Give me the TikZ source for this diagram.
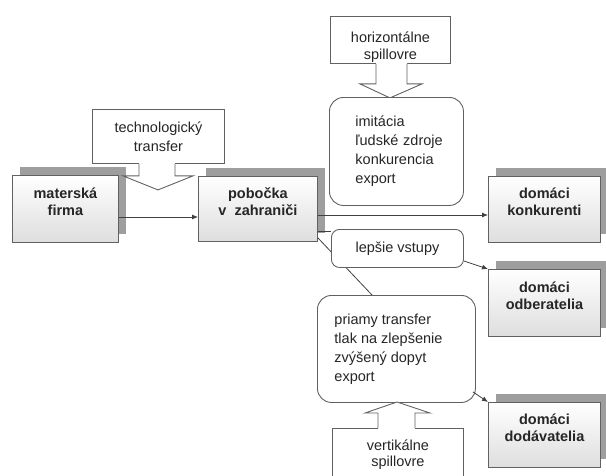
\documentclass[tikz,border=0pt]{standalone}
\usepackage{fontspec}
\setmainfont{Liberation Sans}
\usetikzlibrary{arrows.meta,calc,shadows}
\newcommand\mydrop[1]{\rule[-#1]{0pt}{0pt}}
\newcommand\myrise[1]{\rule{0pt}{#1}}
\begin{document}
\begin{tikzpicture}[x=1pt,y=-1pt,
  edgecol/.style={draw=black!62},
  mainbox/.style={edgecol, line width=0.9pt, top color=white, bottom color=black!13,
     anchor=north west, inner sep=0pt, align=center, text=black!85,
     font=\bfseries\fontsize{14.5}{17}\selectfont,
     general shadow={fill=black!38, shadow xshift=8pt, shadow yshift=8pt}},
  callbox/.style={edgecol, line width=0.9pt, fill=white, anchor=north west, inner sep=0pt,
     align=center, text=black!85, font=\fontsize{14.5}{19}\selectfont},
  roundbox/.style={edgecol, line width=0.9pt, fill=white, anchor=north west, inner sep=0pt,
     align=left, text=black!85, font=\fontsize{14.5}{19}\selectfont},
  conn/.style={draw=black!75, line width=0.8pt},
  arr/.style={conn, -{Latex[length=6pt,width=5pt]}},
  calloutline/.style={edgecol, line width=0.9pt}
]
\useasboundingbox (0,0) rectangle (606,475);

% --- shaded boxes with shadows
\node[mainbox, minimum width=106pt, minimum height=67pt] (mat) at (12,175) {materská\\firma\mydrop{15pt}};
\node[mainbox, minimum width=119pt, minimum height=65pt] (pob) at (198,176) {pobočka\\v\ \ zahraniči\mydrop{14pt}};
\node[mainbox, minimum width=112pt, minimum height=66pt] (kon) at (488,176) {domáci\\konkurenti\mydrop{15pt}};
\node[mainbox, minimum width=112pt, minimum height=67pt] (odb) at (488,269) {domáci\\odberatelia\mydrop{15pt}};
\node[mainbox, minimum width=112pt, minimum height=65pt] (dod) at (488,402) {domáci\\dodávatelia\mydrop{15pt}};

% --- callout: technologicky transfer
\node[callbox, minimum width=132pt, minimum height=54pt] (tech) at (92,109) {technologický\\transfer};
\fill[white] ($(tech.south west)+(47,-1)$) -- ($(tech.south west)+(47,12)$) -- ($(tech.south west)+(31,12)$)
   -- ($(tech.south west)+(66,26)$) -- ($(tech.south west)+(101,12)$) -- ($(tech.south west)+(83,12)$)
   -- ($(tech.south west)+(83,-1)$) -- cycle;
\draw[calloutline] ($(tech.south west)+(47,0)$) -- ($(tech.south west)+(47,12)$) -- ($(tech.south west)+(31,12)$)
   -- ($(tech.south west)+(66,26)$) coordinate (techtip) -- ($(tech.south west)+(101,12)$) -- ($(tech.south west)+(83,12)$)
   -- ($(tech.south west)+(83,0)$);

% --- callout: horizontalne spillovre
\node[callbox, minimum width=120pt, minimum height=47pt, font=\fontsize{14.5}{17}\selectfont] (hor) at (330,16) {\myrise{26pt}horizontálne\\spillovre};
\fill[white] ($(hor.south west)+(46,-1)$) -- ($(hor.south west)+(46,20)$) -- ($(hor.south west)+(30,20)$)
   -- ($(hor.south west)+(60,34)$) -- ($(hor.south west)+(92,20)$) -- ($(hor.south west)+(77,20)$)
   -- ($(hor.south west)+(77,-1)$) -- cycle;
\draw[calloutline] ($(hor.south west)+(46,0)$) -- ($(hor.south west)+(46,20)$) -- ($(hor.south west)+(30,20)$)
   -- ($(hor.south west)+(60,34)$) coordinate (hortip) -- ($(hor.south west)+(92,20)$) -- ($(hor.south west)+(77,20)$)
   -- ($(hor.south west)+(77,0)$);

% --- rounded boxes
\node[roundbox, rounded corners=14pt, minimum width=134pt, minimum height=108pt, text width=116pt] (imit) at (329,97)
  {\hspace*{17pt}\parbox[t]{110pt}{imitácia\\ľudské zdroje\\konkurencia\\export}\mydrop{17pt}};

% diagonal line drawn behind the "lepsie vstupy" box
\node[roundbox, rounded corners=14pt, minimum width=158pt, minimum height=107pt] (pri) at (317,295)
  {\hspace*{16pt}\parbox[t]{140pt}{priamy transfer\\tlak na zlepšenie\\zvýšený dopyt\\export}\mydrop{10pt}};
\draw[conn] ($(pob.south east)+(0,-4)$) -- ($(pri.north west)+(55,0)$);
\node[roundbox, rounded corners=8pt, minimum width=132pt, minimum height=38pt, align=center] (lep) at (331,229) {lepšie vstupy};

% --- callout: vertikalne spillovre (pointing up)
\node[callbox, minimum width=131pt, minimum height=52pt, font=\fontsize{14.5}{16}\selectfont] (ver) at (332,428) {vertikálne\\spillovre\mydrop{3pt}};
\fill[white] ($(ver.north west)+(46,1)$) -- ($(ver.north west)+(46,-15)$) -- ($(ver.north west)+(33,-15)$)
   -- ($(ver.north west)+(65,-26)$) -- ($(ver.north west)+(98,-15)$) -- ($(ver.north west)+(83,-15)$)
   -- ($(ver.north west)+(83,1)$) -- cycle;
\draw[calloutline] ($(ver.north west)+(46,0)$) -- ($(ver.north west)+(46,-15)$) -- ($(ver.north west)+(33,-15)$)
   -- ($(ver.north west)+(65,-26)$) coordinate (vertip) -- ($(ver.north west)+(98,-15)$) -- ($(ver.north west)+(83,-15)$)
   -- ($(ver.north west)+(83,0)$);

% --- connectors
\draw[arr] (mat.east |- 0,217) -- (pob.west |- 0,217);
\draw[arr] (pob.east |- 0,215) -- (kon.west |- 0,215);
\draw[conn] (pob.east |- 0,231) -- (lep.west |- 0,231);
\draw[arr] (lep.east |- 0,261) -- (odb.north west);
\draw[arr] ($(pri.south east)+(-3,-11)$) -- (dod.north west);
\end{tikzpicture}
\end{document}
